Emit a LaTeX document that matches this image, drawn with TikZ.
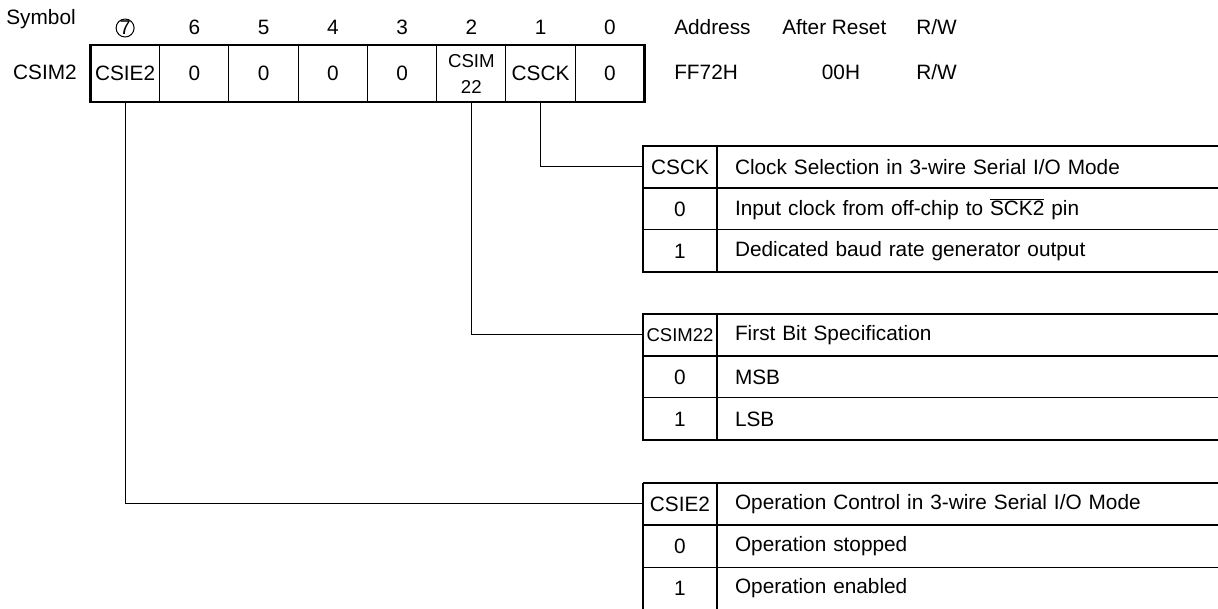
\documentclass[tikz,border=0pt]{standalone}
\usepackage{fontspec}
\setmainfont{Liberation Sans}
\usepackage{tikz}
\usetikzlibrary{positioning}

\begin{document}
\begin{tikzpicture}[
    x=0.75pt, y=-0.75pt,
    font=\fontsize{15.6}{18}\selectfont,
    thin line/.style={line width=0.75pt},
    thick line/.style={line width=1.9pt},
    txt/.style={inner sep=0pt},
    bitcell/.style={draw, thin line, outer sep=0pt, minimum width=51.94pt, minimum height=42.75pt, inner sep=0pt, align=center},
    keycell/.style={draw, thin line, outer sep=0pt, minimum width=55.5pt, minimum height=31.5pt, inner sep=0pt},
    desccell/.style={draw, thin line, outer sep=0pt, minimum width=384.75pt, minimum height=31.5pt, inner xsep=13.5pt, inner ysep=0pt, text width=357.75pt, align=left},
    link/.style={thin line}
]
\useasboundingbox (0,0) rectangle (1218,609);
\clip (0,0) rectangle (1218,609);

% register
\node[bitcell] (b7) at (125.1,73.5) {CSIE2};
\node[bitcell, right=0pt of b7] (b6) {0};
\node[bitcell, right=0pt of b6] (b5) {0};
\node[bitcell, right=0pt of b5] (b4) {0};
\node[bitcell, right=0pt of b4] (b3) {0};
\node[bitcell, right=0pt of b3, font=\fontsize{14}{19.5}\selectfont] (b2) {CSIM\\22};
\node[bitcell, right=0pt of b2] (b1) {CSCK};
\node[bitcell, right=0pt of b1] (b0) {0};
\draw[thick line] (b7.north west) rectangle (b0.south east);

% bit numbers
\node[draw, circle, thin line, inner sep=0pt, minimum size=13.5pt, font=\fontsize{15}{17}\selectfont] (n7) at (125.1,28) {7};
\node[txt, anchor=base] (n6) at (194.4,35) {6};
\node[txt, anchor=base] (n5) at (263.6,35) {5};
\node[txt, anchor=base] (n4) at (332.9,35) {4};
\node[txt, anchor=base] (n3) at (402.1,35) {3};
\node[txt, anchor=base] (n2) at (471.4,35) {2};
\node[txt, anchor=base] (n1) at (540.6,35) {1};
\node[txt, anchor=base] (n0) at (609.9,35) {0};

\node[txt, anchor=base east] (symbol) at (76,25) {Symbol};
\node[txt, anchor=base east] (regname) at (77,80) {CSIM2};
\node[txt, anchor=base west] (addr) at (674,35) {Address};
\node[txt, anchor=base west] (reset) at (782,35) {After Reset};
\node[txt, anchor=base west] (rw) at (916,35) {R/W};
\node[txt, anchor=base west] (addrval) at (674,80) {FF72H};
\node[txt, anchor=base] (resetval) at (841,80) {00H};
\node[txt, anchor=base west] (rwval) at (916,80) {R/W};

% CSCK table
\node[keycell] (ck) at (680,167) {CSCK};
\node[desccell, right=0pt of ck] (ckd) {Clock Selection in 3-wire Serial I/O Mode};
\node[keycell, below=0pt of ck] (ck0) {0};
\node[desccell, right=0pt of ck0] (ck0d) {Input clock from off-chip to $\overline{\mbox{SCK2}}$ pin};
\node[keycell, below=0pt of ck0] (ck1) {1};
\node[desccell, right=0pt of ck1] (ck1d) {Dedicated baud rate generator output};
\draw[thick line] (ck.north west) rectangle (ck1d.south east);
\draw[thick line] (ck.south west) -- (ckd.south east);
\draw[thick line] (ck.north east) -- (ck1.south east);

% CSIM22 table
\node[keycell, font=\fontsize{13.9}{16}\selectfont] (cs) at (680,335) {CSIM22};
\node[desccell, right=0pt of cs] (csd) {First Bit Specification};
\node[keycell, below=0pt of cs] (cs0) {0};
\node[desccell, right=0pt of cs0] (cs0d) {MSB};
\node[keycell, below=0pt of cs0] (cs1) {1};
\node[desccell, right=0pt of cs1] (cs1d) {LSB};
\draw[thick line] (cs.north west) rectangle (cs1d.south east);
\draw[thick line] (cs.south west) -- (csd.south east);
\draw[thick line] (cs.north east) -- (cs1.south east);

% CSIE2 table
\node[keycell] (ce) at (680,504) {CSIE2};
\node[desccell, right=0pt of ce] (ced) {Operation Control in 3-wire Serial I/O Mode};
\node[keycell, below=0pt of ce] (ce0) {0};
\node[desccell, right=0pt of ce0] (ce0d) {Operation stopped};
\node[keycell, below=0pt of ce0] (ce1) {1};
\node[desccell, right=0pt of ce1] (ce1d) {Operation enabled};
\draw[thick line] (ce.north west) -- (ce.north west -| ced.north east);
\draw[thick line] (ce.north west) -- (ce1.south west);
\draw[thick line] (ce.south west) -- (ced.south east);
\draw[thick line] (ce.north east) -- (ce1.south east);

% connectors
\draw[link] (b1.south) |- (ck.west);
\draw[link] (b2.south) |- (cs.west);
\draw[link] (b7.south) |- (ce.west);
\end{tikzpicture}
\end{document}
